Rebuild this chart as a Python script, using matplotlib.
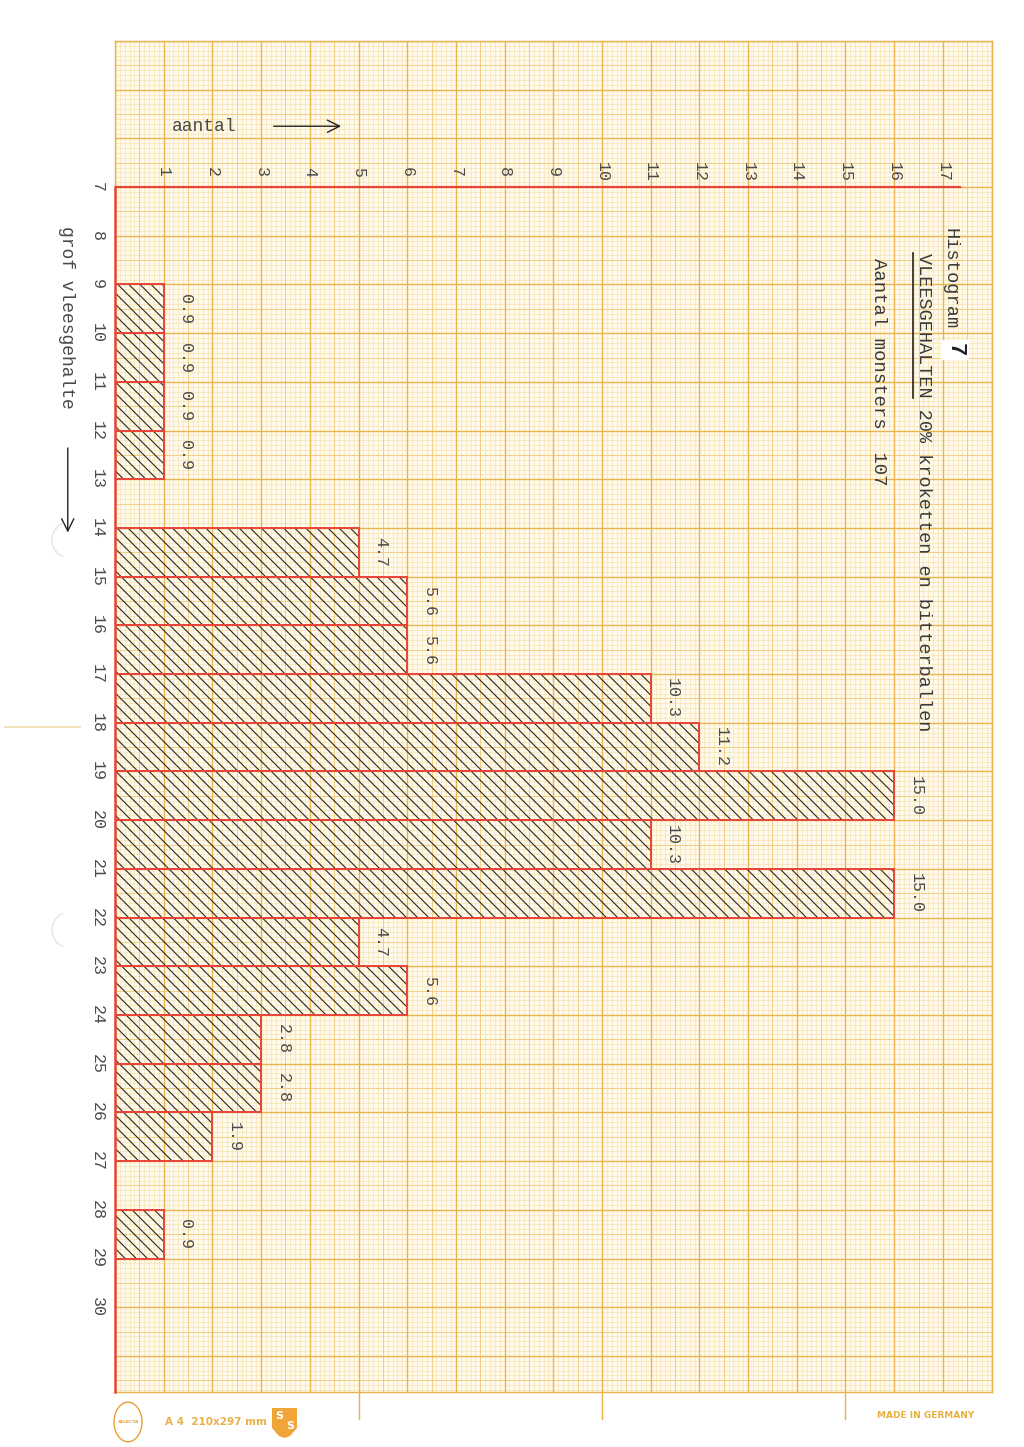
import matplotlib
matplotlib.use('Agg')
import matplotlib.pyplot as plt
import numpy as np
from matplotlib.patches import Circle, Polygon, Arc

# ---------------- data ----------------
bin_start = [9, 10, 11, 12, 14, 15, 16, 17, 18, 19, 20, 21, 22, 23, 24, 25, 26, 28]
counts = [1, 1, 1, 1, 5, 6, 6, 11, 12, 16, 11, 16, 5, 6, 3, 3, 2, 1]
pct_labels = ['0.9', '0.9', '0.9', '0.9', '4.7', '5.6', '5.6', '10.3', '11.2',
              '15.0', '10.3', '15.0', '4.7', '5.6', '2.8', '2.8', '1.9', '0.9']
count_ticks = list(range(1, 18))
class_ticks = list(range(7, 31))

title = "Histogram"
title_num = "7"
subtitle = "VLEESGEHALTEN 20% kroketten en bitterballen"
n_line = "Aantal monsters  107"
xlabel = "aantal"
ylabel = "grof vleesgehalte"

# ---------------- layout ----------------
W, H = 1024, 1447
PX = 48.7
X0, Y_TOP = 115, 41
X_MAX, Y_MIN, Y_MAX = 18.0, 4.0, 31.75

plt.rcParams['hatch.linewidth'] = 0.8
MONO = ['Liberation Mono', 'DejaVu Sans Mono']
INK = '#4a4a4a'
RED = '#E8453A'
ORANGE = '#E9B24A'

fig = plt.figure(figsize=(W / 100, H / 100), dpi=100)
fig.patch.set_facecolor('white')
ax = fig.add_axes([X0 / W, (H - (Y_TOP + (Y_MAX - Y_MIN) * PX)) / H,
                   X_MAX * PX / W, (Y_MAX - Y_MIN) * PX / H])
ax.set_xlim(0, X_MAX)
ax.set_ylim(Y_MAX, Y_MIN)
ax.set_facecolor('#FEF9EA')
ax.set_xticks([])
ax.set_yticks([])
for s in ax.spines.values():
    s.set_color(ORANGE)
    s.set_linewidth(1.0)

# graph paper grid
def split(vals):
    mi, ha, ma = [], [], []
    for v in vals:
        if abs(v - round(v)) < 1e-6:
            ma.append(v)
        elif abs(v * 2 - round(v * 2)) < 1e-6:
            ha.append(v)
        else:
            mi.append(v)
    return mi, ha, ma

gx = split(np.round(np.arange(0, X_MAX + 1e-6, 0.1), 1))
gy = split(np.round(np.arange(Y_MIN, Y_MAX + 1e-6, 0.1), 1))
styles = [('#F5E2AE', 0.45), ('#F0CF82', 0.7), ('#E9B54E', 1.0)]
for (c, lw), xs, ys in zip(styles, gx, gy):
    ax.vlines(xs, Y_MIN, Y_MAX, colors=c, linewidth=lw, zorder=1)
    ax.hlines(ys, 0, X_MAX, colors=c, linewidth=lw, zorder=1)

# ticks below paper every 5 cm
for xv in [5, 10, 15]:
    ax.plot([xv, xv], [Y_MAX, Y_MAX + 0.55], color=ORANGE, lw=1.0, clip_on=False, zorder=1)

# bars
y_centers = [b + 0.5 for b in bin_start]
ax.barh(y_centers, counts, height=1.0, left=0, facecolor='none',
        edgecolor='#2a2a2a', hatch='\\\\\\', linewidth=0, zorder=3)
ax.barh(y_centers, counts, height=1.0, left=0, facecolor='none',
        edgecolor=RED, linewidth=1.4, zorder=4)

# red axes
ax.plot([0, 0], [7, Y_MAX], color=RED, lw=1.8, zorder=5, clip_on=False)
ax.plot([0, 17.35], [7, 7], color=RED, lw=1.6, zorder=5)

# value labels
for yc, c, lab in zip(y_centers, counts, pct_labels):
    ax.text(c + 0.3, yc, lab, rotation=-90, ha='left', va='center',
            fontsize=12, family=MONO, color=INK, zorder=6)

# count axis labels
for n in count_ticks:
    ax.text(n, 6.7, str(n), rotation=-90, ha='center', va='center',
            fontsize=12, family=MONO, color=INK, zorder=6)

# class labels
for k in class_ticks:
    ax.text(-0.37, k, str(k), rotation=-90, ha='center', va='center',
            fontsize=12, family=MONO, color=INK, clip_on=False, zorder=6)

# axis titles
ax.text(1.17, 5.75, xlabel, ha='left', va='center', fontsize=13, family=MONO, color=INK)
ax.annotate('', xy=(4.7, 5.75), xytext=(3.2, 5.75),
            arrowprops=dict(arrowstyle='->', color='#222', lw=1.0, mutation_scale=22))
ax.text(-1.0, 7.8, ylabel, rotation=-90, ha='center', va='top', fontsize=13,
        family=MONO, color=INK, clip_on=False)
ax.annotate('', xy=(-0.97, 14.15), xytext=(-0.97, 12.3),
            arrowprops=dict(arrowstyle='->', color='#222', lw=1.0, mutation_scale=22),
            annotation_clip=False)

# titles
ax.text(17.15, 7.84, title, rotation=-90, ha='center', va='top', fontsize=13.5,
        family=MONO, color='#3a3a3a', zorder=6)
ax.text(17.25, 10.2, title_num, rotation=-90, ha='center', va='top', fontsize=16,
        family=MONO, fontweight='bold', color='#222', zorder=6,
        bbox=dict(boxstyle='square,pad=0.15', fc='white', ec='none'))
ax.text(16.6, 8.35, subtitle, rotation=-90, ha='center', va='top', fontsize=13.3,
        family=MONO, color='#3a3a3a', zorder=6)
ax.plot([16.39, 16.39], [8.35, 11.33], color='#222', lw=1.2, zorder=6)
ax.text(15.67, 8.45, n_line, rotation=-90, ha='center', va='top', fontsize=13.7,
        family=MONO, color='#3a3a3a', zorder=6)

# ---------------- page decorations ----------------
def fx(x):
    return x / W

def fy(y):
    return 1 - y / H

fig.add_artist(plt.Line2D([fx(5), fx(80)], [fy(727), fy(727)], color='#EFDDAA', lw=1.2))
for yy in [540, 930]:
    fig.add_artist(Arc((fx(70), fy(yy)), 36 / W, 36 / H, theta1=120, theta2=240,
                       color='#E4E4E4', lw=1.0))

fig.add_artist(Circle((fx(128), fy(1422)), 14 / W, transform=fig.transFigure,
                      fill=False, ec='#E8A030', lw=1.0))
fig.text(fx(128), fy(1422), 'SELECTA', fontsize=3.2, ha='center', va='center',
         color='#E8A030', fontweight='bold', family='DejaVu Sans')
fig.text(fx(165), fy(1422), 'A 4  210x297 mm', fontsize=7.5, ha='left', va='center',
         color='#E9B04A', fontweight='bold', family='DejaVu Sans')
shield = Polygon([[fx(272), fy(1408)], [fx(297), fy(1408)], [fx(297), fy(1428)],
                  [fx(290), fy(1436)], [fx(284.5), fy(1438)], [fx(279), fy(1436)],
                  [fx(272), fy(1428)]], closed=True, transform=fig.transFigure,
                 fc='#F0A538', ec='none')
fig.add_artist(shield)
fig.text(fx(279), fy(1416), 'S', fontsize=8, ha='center', va='center', color='white',
         fontweight='bold', family='DejaVu Sans')
fig.text(fx(290), fy(1426), 'S', fontsize=8, ha='center', va='center', color='white',
         fontweight='bold', family='DejaVu Sans')
fig.text(fx(877), fy(1416), 'MADE IN GERMANY', fontsize=6.5, ha='left', va='center',
         color='#E6B040', fontweight='bold', family='DejaVu Sans')

fig.savefig('out.png', dpi=100, facecolor='white')
